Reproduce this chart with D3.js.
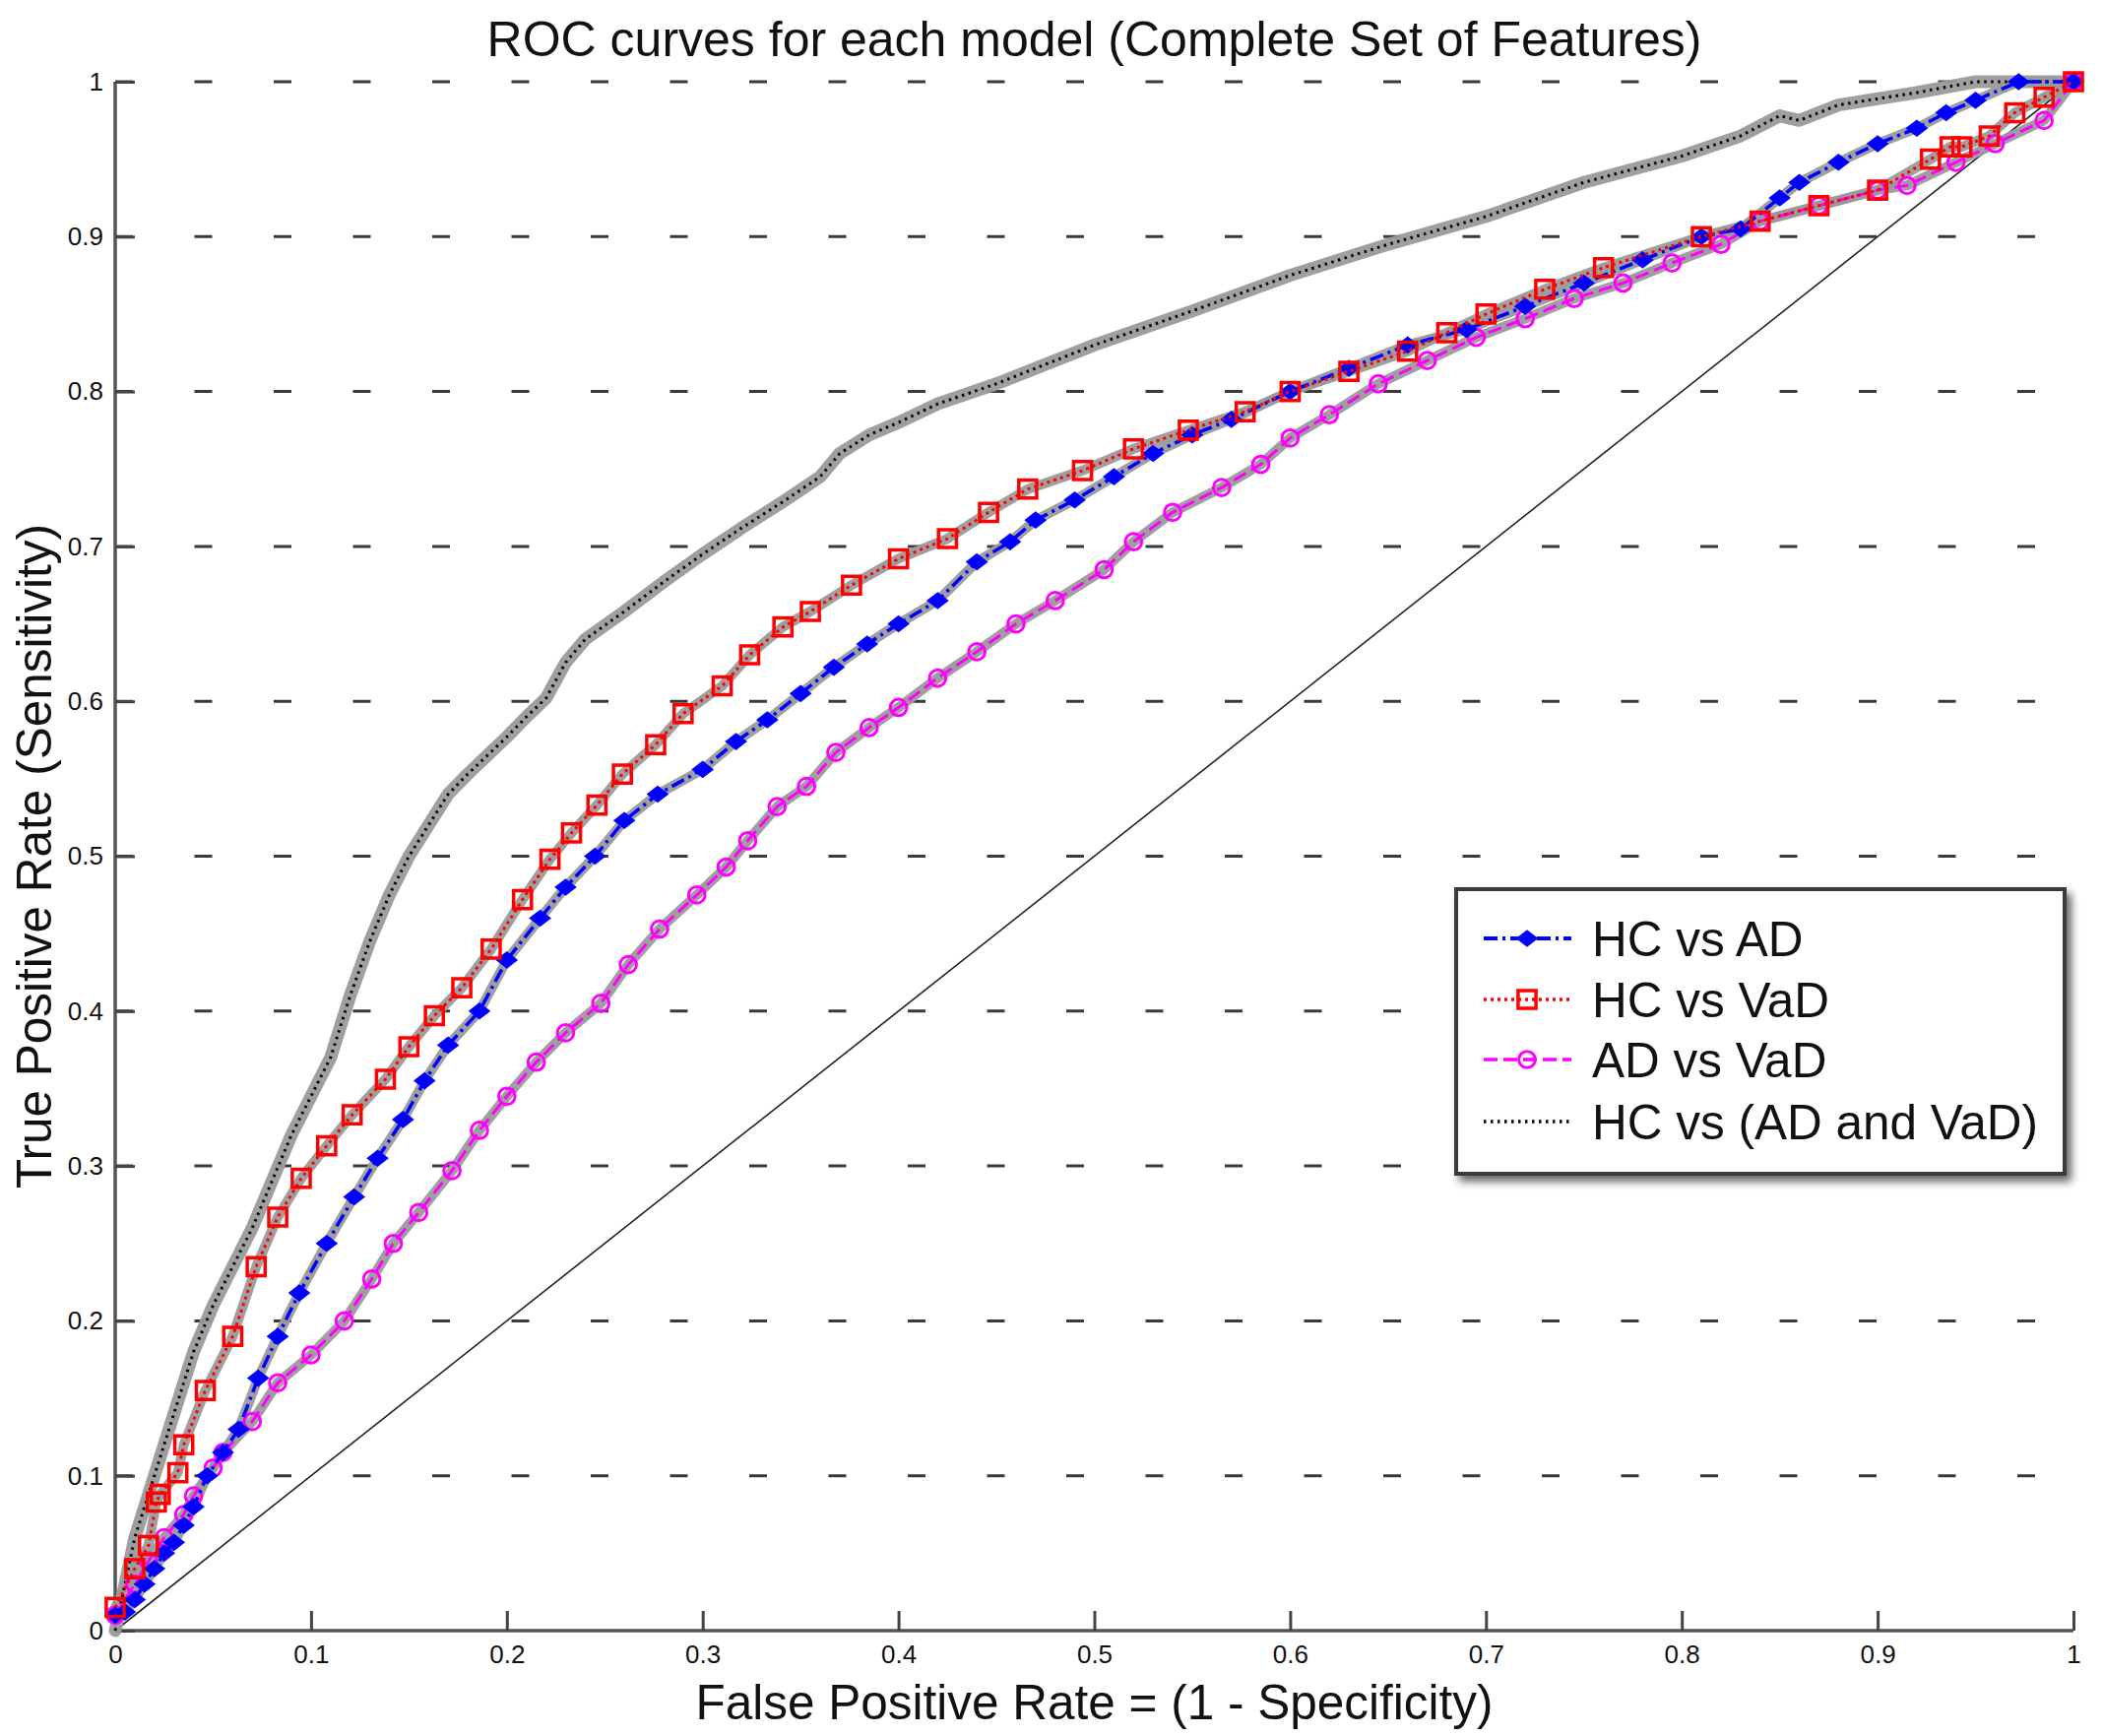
<!DOCTYPE html>
<html>
<head>
<meta charset="utf-8">
<script src="https://cdn.jsdelivr.net/npm/d3@7"></script>
<style>
  html, body { margin: 0; padding: 0; background: #fff; }
  svg { display: block; }
  text { font-family: "Liberation Sans", Arial, Helvetica, sans-serif; fill: #111; }
</style>
</head>
<body>
<svg id="chart" width="2136" height="1763"></svg>
<script>
// ---------------- data ----------------
const chartTitle = "ROC curves for each model (Complete Set of Features)";
const xAxisTitle = "False Positive Rate = (1 - Specificity)";
const yAxisTitle = "True Positive Rate (Sensitivity)";
const tickValues = [0, 0.1, 0.2, 0.3, 0.4, 0.5, 0.6, 0.7, 0.8, 0.9, 1];
const tickLabels = ["0", "0.1", "0.2", "0.3", "0.4", "0.5", "0.6", "0.7", "0.8", "0.9", "1"];
const seriesNames = ["HC vs AD", "HC vs VaD", "AD vs VaD", "HC vs (AD and VaD)"];

const hcAdFpr = [0, 0.005, 0.01, 0.015, 0.02, 0.025, 0.03, 0.035, 0.04, 0.047, 0.055, 0.063, 0.073, 0.083, 0.094, 0.108, 0.122, 0.134, 0.147, 0.158, 0.17, 0.186, 0.2, 0.217, 0.23, 0.245, 0.26, 0.277, 0.3, 0.317, 0.333, 0.35, 0.367, 0.384, 0.4, 0.42, 0.44, 0.457, 0.47, 0.49, 0.51, 0.53, 0.55, 0.57, 0.6, 0.63, 0.66, 0.69, 0.72, 0.75, 0.78, 0.81, 0.83, 0.85, 0.86, 0.88, 0.9, 0.92, 0.935, 0.95, 0.972, 1];
const hcAdTpr = [0.01, 0.012, 0.02, 0.03, 0.04, 0.05, 0.057, 0.068, 0.08, 0.1, 0.115, 0.13, 0.163, 0.19, 0.218, 0.25, 0.28, 0.305, 0.33, 0.355, 0.378, 0.4, 0.433, 0.46, 0.48, 0.5, 0.523, 0.54, 0.556, 0.574, 0.588, 0.605, 0.622, 0.637, 0.65, 0.665, 0.69, 0.703, 0.717, 0.73, 0.745, 0.76, 0.772, 0.782, 0.8, 0.815, 0.83, 0.84, 0.855, 0.87, 0.885, 0.9, 0.905, 0.925, 0.935, 0.948, 0.96, 0.97, 0.98, 0.988, 1, 1];

const hcVadFpr = [0, 0.01, 0.017, 0.021, 0.023, 0.032, 0.035, 0.046, 0.06, 0.072, 0.083, 0.095, 0.108, 0.121, 0.138, 0.15, 0.163, 0.177, 0.192, 0.208, 0.222, 0.233, 0.246, 0.259, 0.276, 0.29, 0.31, 0.324, 0.341, 0.355, 0.376, 0.4, 0.425, 0.446, 0.466, 0.494, 0.52, 0.548, 0.577, 0.6, 0.63, 0.66, 0.68, 0.7, 0.73, 0.76, 0.81, 0.84, 0.87, 0.9, 0.927, 0.937, 0.943, 0.957, 0.97, 0.985, 1];
const hcVadTpr = [0.015, 0.04, 0.055, 0.083, 0.088, 0.102, 0.12, 0.155, 0.19, 0.235, 0.267, 0.292, 0.313, 0.333, 0.356, 0.377, 0.397, 0.415, 0.44, 0.472, 0.498, 0.515, 0.533, 0.553, 0.572, 0.592, 0.61, 0.63, 0.648, 0.658, 0.675, 0.692, 0.705, 0.722, 0.737, 0.749, 0.763, 0.775, 0.787, 0.8, 0.813, 0.826, 0.838, 0.85, 0.866, 0.88, 0.9, 0.91, 0.92, 0.93, 0.95, 0.958, 0.958, 0.965, 0.98, 0.99, 1];

const adVadFpr = [0, 0.01, 0.017, 0.025, 0.035, 0.04, 0.05, 0.055, 0.07, 0.083, 0.1, 0.117, 0.131, 0.142, 0.155, 0.172, 0.186, 0.2, 0.215, 0.23, 0.248, 0.262, 0.278, 0.297, 0.312, 0.323, 0.338, 0.353, 0.368, 0.385, 0.4, 0.42, 0.44, 0.46, 0.48, 0.505, 0.52, 0.54, 0.565, 0.585, 0.6, 0.62, 0.645, 0.67, 0.695, 0.72, 0.745, 0.77, 0.795, 0.82, 0.84, 0.87, 0.9, 0.915, 0.94, 0.96, 0.985, 1];
const adVadTpr = [0.01, 0.03, 0.045, 0.06, 0.075, 0.087, 0.105, 0.115, 0.135, 0.16, 0.178, 0.2, 0.227, 0.25, 0.27, 0.297, 0.323, 0.345, 0.367, 0.386, 0.405, 0.43, 0.453, 0.475, 0.493, 0.51, 0.532, 0.545, 0.567, 0.583, 0.596, 0.615, 0.632, 0.65, 0.665, 0.685, 0.703, 0.722, 0.738, 0.753, 0.77, 0.785, 0.805, 0.82, 0.835, 0.847, 0.86, 0.87, 0.883, 0.895, 0.91, 0.92, 0.93, 0.933, 0.948, 0.96, 0.975, 1];

const hcAllFpr = [0, 0.005, 0.01, 0.02, 0.03, 0.04, 0.05, 0.06, 0.07, 0.08, 0.09, 0.1, 0.11, 0.12, 0.13, 0.14, 0.15, 0.16, 0.17, 0.18, 0.19, 0.2, 0.21, 0.22, 0.23, 0.24, 0.26, 0.28, 0.3, 0.32, 0.34, 0.36, 0.37, 0.385, 0.4, 0.42, 0.45, 0.5, 0.55, 0.6, 0.65, 0.7, 0.75, 0.8, 0.83, 0.85, 0.86, 0.88, 0.92, 0.95, 1];
const hcAllTpr = [0, 0.03, 0.06, 0.1, 0.14, 0.18, 0.21, 0.235, 0.26, 0.29, 0.32, 0.345, 0.37, 0.41, 0.445, 0.475, 0.5, 0.52, 0.54, 0.553, 0.565, 0.577, 0.59, 0.602, 0.625, 0.64, 0.658, 0.677, 0.695, 0.712, 0.728, 0.745, 0.76, 0.772, 0.78, 0.792, 0.805, 0.83, 0.852, 0.875, 0.895, 0.913, 0.935, 0.952, 0.965, 0.978, 0.975, 0.985, 0.993, 1, 1];

const chanceFpr = [0, 1];
const chanceTpr = [0, 1];

// ---------------- layout ----------------
const svg = d3.select("#chart");
const X0 = 117, X1 = 2106, Y0 = 1656, Y1 = 83;
const x = d3.scaleLinear().domain([0, 1]).range([X0, X1]);
const y = d3.scaleLinear().domain([0, 1]).range([Y0, Y1]);

const zip = (a, b) => a.map((v, i) => [v, b[i]]);
const line = d3.line().x(d => x(d[0])).y(d => y(d[1]));

const defs = svg.append("defs");
const shadow = defs.append("filter").attr("id", "shadow").attr("x", "-10%").attr("y", "-10%").attr("width", "130%").attr("height", "130%");
shadow.append("feGaussianBlur").attr("in", "SourceAlpha").attr("stdDeviation", 4);
shadow.append("feOffset").attr("dx", 5).attr("dy", 6).attr("result", "off");
shadow.append("feComponentTransfer").append("feFuncA").attr("type", "linear").attr("slope", 0.6);
const mg = shadow.append("feMerge");
mg.append("feMergeNode");
mg.append("feMergeNode").attr("in", "SourceGraphic");

// grid lines (horizontal only)
svg.append("g").selectAll("line").data(tickValues.filter(v => v > 0)).join("line")
  .attr("x1", x(0)).attr("x2", x(1))
  .attr("y1", d => y(d)).attr("y2", d => y(d))
  .attr("stroke", "#3a3a3a").attr("stroke-width", 3)
  .attr("stroke-dasharray", "18,62.5");

// axes
const xAxis = d3.axisBottom(x).tickValues(tickValues).tickFormat((d, i) => tickLabels[i]).tickSize(-20).tickPadding(11);
const yAxis = d3.axisLeft(y).tickValues(tickValues).tickFormat((d, i) => tickLabels[i]).tickSize(-20).tickPadding(12);

const gx = svg.append("g").attr("transform", `translate(0,${Y0})`).call(xAxis);
const gy = svg.append("g").attr("transform", `translate(${X0},0)`).call(yAxis);
[gx, gy].forEach(g => {
  g.select(".domain").attr("stroke", "#555").attr("stroke-width", 3.5);
  g.selectAll(".tick line").attr("stroke", "#444").attr("stroke-width", 3);
  g.selectAll(".tick text").attr("font-size", 26).attr("fill", "#222")
    .attr("font-family", "'Liberation Sans', Arial, sans-serif");
});
gx.select(".domain").attr("d", `M${X0},0H${X1}`);
gy.select(".domain").attr("d", `M0,${Y0}V${Y1}`);
gx.selectAll(".tick text").attr("dy", "0.85em");

// chance diagonal
svg.append("path").datum(zip(chanceFpr, chanceTpr)).attr("d", line)
  .attr("fill", "none").attr("stroke", "#222").attr("stroke-width", 1.6);

// series definitions (styles)
const series = [
  { name: seriesNames[3], data: zip(hcAllFpr, hcAllTpr), color: "#000", dash: "2.5,4.5", width: 3, halo: 13, marker: null },
  { name: seriesNames[2], data: zip(adVadFpr, adVadTpr), color: "#ff00ff", dash: "14,6", width: 3, halo: 10, marker: "circle" },
  { name: seriesNames[0], data: zip(hcAdFpr, hcAdTpr), color: "#0000ff", dash: "14,5,3,5", width: 3.5, halo: 10, marker: "diamond" },
  { name: seriesNames[1], data: zip(hcVadFpr, hcVadTpr), color: "#ff0000", dash: "3,4", width: 3, halo: 10, marker: "square" }
];

const wideDiamond = {
  draw(ctx, size) {
    const w = Math.sqrt(size) * 0.8, h = Math.sqrt(size) * 0.62;
    ctx.moveTo(-w, 0); ctx.lineTo(0, -h); ctx.lineTo(w, 0); ctx.lineTo(0, h); ctx.closePath();
  }
};
const symbolFor = {
  circle: d3.symbol().type(d3.symbolCircle).size(220),
  diamond: d3.symbol().type(wideDiamond).size(160),
  square: d3.symbol().type(d3.symbolSquare).size(330)
};

function drawMarker(g, kind, color, px, py) {
  const p = g.append("path").attr("d", symbolFor[kind]()).attr("transform", `translate(${px},${py})`);
  if (kind === "diamond") p.attr("fill", color).attr("stroke", color).attr("stroke-width", 1.5);
  else p.attr("fill", "none").attr("stroke", color).attr("stroke-width", kind === "square" ? 3.5 : 3);
}

// halos first
series.forEach(s => {
  svg.append("path").datum(s.data).attr("d", line)
    .attr("fill", "none").attr("stroke", "#9a9a9a").attr("stroke-width", s.halo)
    .attr("stroke-linejoin", "round").attr("stroke-linecap", "round").attr("opacity", 0.95);
});
series.forEach(s => {
  const g = svg.append("g");
  g.append("path").datum(s.data).attr("d", line)
    .attr("fill", "none").attr("stroke", s.color).attr("stroke-width", s.width)
    .attr("stroke-dasharray", s.dash);
  if (s.marker) s.data.forEach(d => drawMarker(g, s.marker, s.color, x(d[0]), y(d[1])));
});

// title and axis labels
svg.append("text").attr("x", (X0 + X1) / 2).attr("y", 57).attr("text-anchor", "middle")
  .attr("font-size", 50).text(chartTitle);
svg.append("text").attr("x", (X0 + X1) / 2).attr("y", 1746).attr("text-anchor", "middle")
  .attr("font-size", 49.5).text(xAxisTitle);
svg.append("text").attr("transform", `translate(52,${(Y0 + Y1) / 2}) rotate(-90)`).attr("text-anchor", "middle")
  .attr("font-size", 49.5).text(yAxisTitle);

// legend
const LX = 1479, LY = 903, LW = 618, LH = 289;
const lg = svg.append("g");
lg.append("rect").attr("x", LX).attr("y", LY).attr("width", LW).attr("height", LH)
  .attr("fill", "#fff").attr("stroke", "#3a3a3a").attr("stroke-width", 4).attr("filter", "url(#shadow)");
const legendOrder = [series[2], series[3], series[1], series[0]];
const rowY = [953, 1015, 1076, 1139];
legendOrder.forEach((s, i) => {
  const ry = rowY[i];
  lg.append("path").datum([[1507, ry], [1596, ry]]).attr("d", d3.line())
    .attr("stroke", s.color).attr("stroke-width", s.width + 0.5).attr("stroke-dasharray", s.dash);
  if (s.marker) drawMarker(lg, s.marker, s.color, 1551, ry);
  lg.append("text").attr("x", 1617).attr("y", ry).attr("dy", "0.36em")
    .attr("font-size", 49.5).text(s.name);
});
</script>
</body>
</html>
